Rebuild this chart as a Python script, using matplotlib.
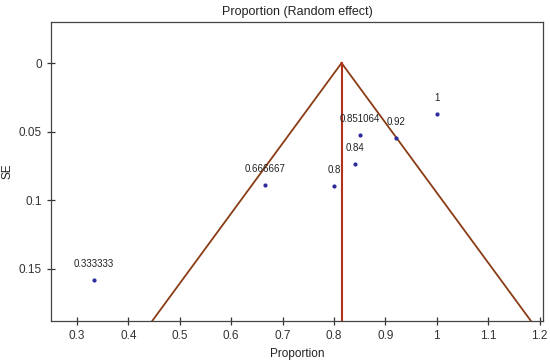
import matplotlib
matplotlib.use('Agg')
import matplotlib.pyplot as plt
import numpy as np

# ── Data ──
proportions = [0.333333, 0.666667, 0.8, 0.84, 0.851064, 0.92, 1.0]
se_values = [0.158, 0.0889, 0.0896, 0.0738, 0.0524, 0.0546, 0.0371]
point_labels = ["0.333333", "0.666667", "0.8", "0.84", "0.851064", "0.92", "1"]
pooled = 0.8147
se_max = 0.188

x_ticks = [0.3, 0.4, 0.5, 0.6, 0.7, 0.8, 0.9, 1.0, 1.1, 1.2]
x_tick_labels = ["0.3", "0.4", "0.5", "0.6", "0.7", "0.8", "0.9", "1", "1.1", "1.2"]
y_ticks = [0, 0.05, 0.1, 0.15]
y_tick_labels = ["0", "0.05", "0.1", "0.15"]

plt.rcParams['font.family'] = ['Liberation Sans', 'DejaVu Sans']

fig = plt.figure(figsize=(5.5, 3.64), dpi=100)
ax = fig.add_axes([51 / 550, 1 - 321 / 364, (543 - 51) / 550, (321 - 22) / 364])

# funnel (pooled +/- 1.96 SE)
se_line = np.array([0, se_max])
ax.plot(pooled - 1.96 * se_line, se_line, color="#8a3c14", lw=1.3)
ax.plot(pooled + 1.96 * se_line, se_line, color="#8a3c14", lw=1.3)
ax.plot([pooled, pooled], [0, se_max], color="#b4321c", lw=1.5)

ax.scatter(proportions, se_values, s=4, color="#2b2b9c", zorder=3)
for p, s, lab in zip(proportions, se_values, point_labels):
    ax.annotate(lab, (p, s), xytext=(0, 11.5), textcoords="offset points",
                ha="center", va="center", fontsize=7, color="#222222")

ax.set_xlim(0.2494, 1.2066)
ax.set_ylim(se_max, -0.0299)
ax.set_xticks(x_ticks)
ax.set_xticklabels(x_tick_labels)
ax.set_yticks(y_ticks)
ax.set_yticklabels(y_tick_labels)
ax.tick_params(direction="inout", length=6, width=0.9, labelsize=8.5, colors="#333333")

for sp in ax.spines.values():
    sp.set_color("#444444")
    sp.set_linewidth(0.9)

ax.set_title("Proportion (Random effect)", fontsize=9, color="#222222", pad=5)
ax.set_xlabel("Proportion", fontsize=8.5, color="#222222", labelpad=4)
ax.set_ylabel("SE", fontsize=8.5, color="#222222", labelpad=4)

fig.savefig("out.png", dpi=100)
